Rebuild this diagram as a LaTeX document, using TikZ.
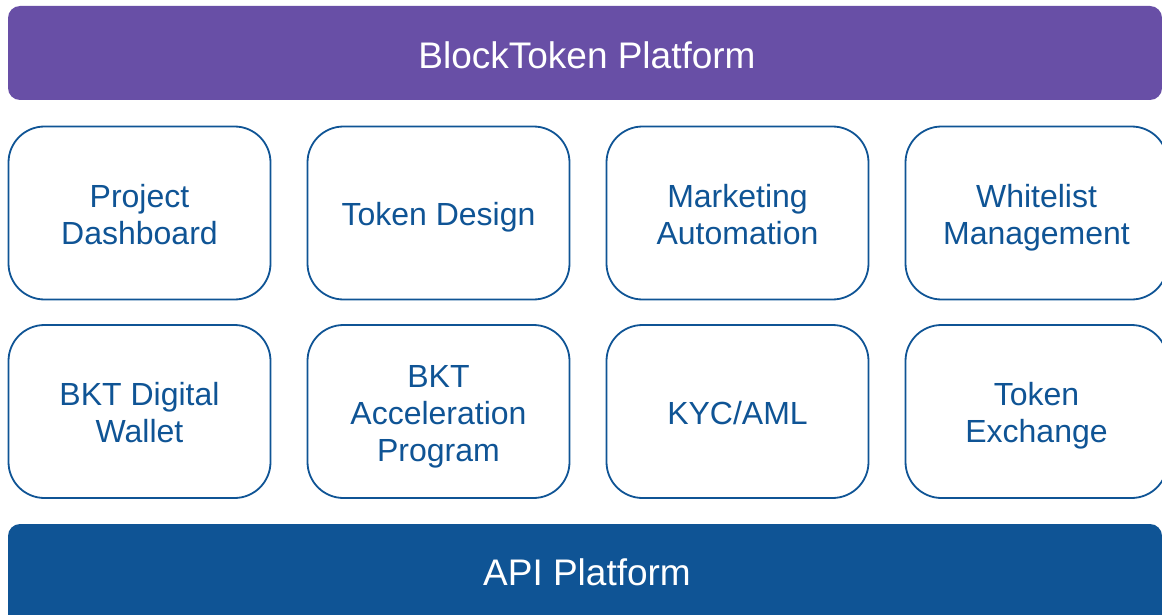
\documentclass[tikz,border=0pt]{standalone}
\usepackage{fontspec}
\setmainfont{Liberation Sans}
\definecolor{bkpurple}{HTML}{684FA6}
\definecolor{bkblue}{HTML}{0F5495}
\begin{document}
\begin{tikzpicture}[x=1pt,y=-1pt,
  bar/.style={inner sep=0pt, text=white, font=\fontsize{37}{42}\selectfont},
  modbox/.style={draw=bkblue, line width=1.8pt, rounded corners=36pt, fill=white,
    minimum width=262pt, minimum height=173pt, inner sep=0pt},
  modtext/.style={text=bkblue, inner sep=0pt, align=center,
    font=\fontsize{32}{37}\selectfont}]
\useasboundingbox (0,0) rectangle (1162,615);
\clip (0,0) rectangle (1162,615);
\fill[bkpurple, rounded corners=12pt] (8,6) rectangle (1162,100);
\node[bar] (top) at (587,55) {BlockToken Platform};
\fill[bkblue, rounded corners=12pt] (8,524) rectangle (1162,640);
\node[bar] (api) at (587,572) {API Platform};
\node[modbox] (pd) at (139.5,213) {};
\node[modbox] (td) at (438.5,213) {};
\node[modbox] (ma) at (737.5,213) {};
\node[modbox] (wm) at (1036.5,213) {};
\node[modbox] (bw) at (139.5,411.5) {};
\node[modbox] (ba) at (438.5,411.5) {};
\node[modbox] (ky) at (737.5,411.5) {};
\node[modbox] (te) at (1036.5,411.5) {};
\node[modtext] (pdt) at ([yshift=-5.5pt]pd.center) {\strut Project\\Dashboard\strut};
\node[modtext] (tdt) at ([yshift=-5.5pt]td.center) {\strut Token Design};
\node[modtext] (mat) at ([yshift=-5.5pt]ma.center) {\strut Marketing\\Automation\strut};
\node[modtext] (wmt) at ([yshift=-5.5pt]wm.center) {\strut Whitelist\\Management\strut};
\node[modtext] (bwt) at ([yshift=-5.5pt]bw.center) {\strut BKT Digital\\Wallet\strut};
\node[modtext] (bat) at ([yshift=-5.5pt]ba.center) {\strut BKT\\Acceleration\\Program\strut};
\node[modtext] (kyt) at ([yshift=-5.5pt]ky.center) {\strut KYC/AML};
\node[modtext] (tet) at ([yshift=-5.5pt]te.center) {\strut Token\\Exchange\strut};
\end{tikzpicture}
\end{document}
